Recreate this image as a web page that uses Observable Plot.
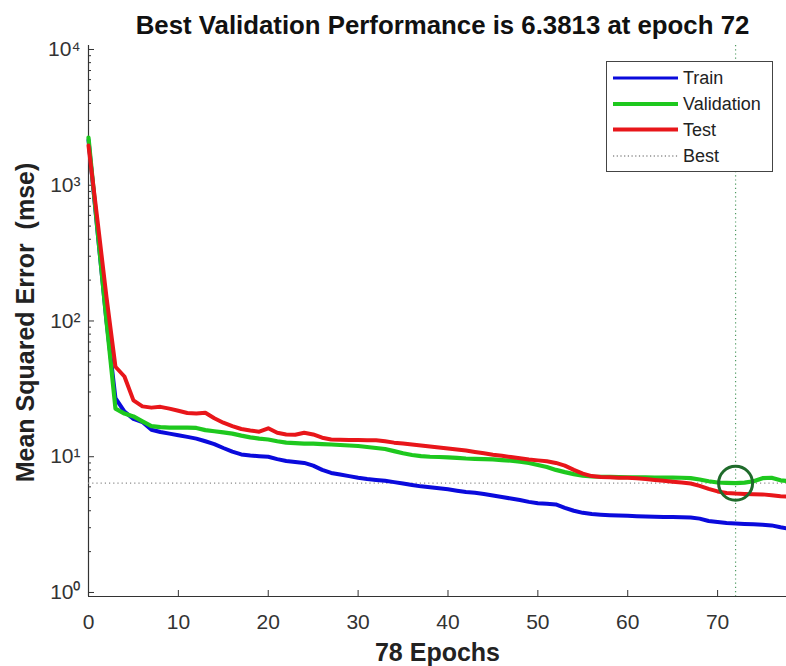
<!DOCTYPE html>
<html>
<head>
<meta charset="utf-8">
<script src="https://cdn.jsdelivr.net/npm/d3@7"></script>
<script src="https://cdn.jsdelivr.net/npm/@observablehq/plot@0.6"></script>
<style>
html, body { margin: 0; padding: 0; background: #fff; overflow: hidden; }
#wrap { position: relative; width: 786px; height: 666px; overflow: hidden; font-family: "Liberation Sans", Arial, sans-serif; }
#legend { position: absolute; left: 606px; top: 61px; width: 167px; height: 111px; border: 1px solid #444; background: #fff; box-sizing: border-box; }
#legend svg { display: block; }
</style>
</head>
<body>
<div id="wrap"></div>
<script>
// ---- data ----
const train = [2150, 460, 100, 27, 21.5, 19, 18, 15.8, 15.2, 14.8,
  14.4, 14.0, 13.6, 13.0, 12.4, 11.6, 10.9, 10.4, 10.2, 10.1,
  10.0, 9.6, 9.3, 9.15, 9.0, 8.6, 8.0, 7.6, 7.4, 7.2,
  7.0, 6.85, 6.75, 6.65, 6.5, 6.35, 6.2, 6.05, 5.95, 5.85,
  5.75, 5.62, 5.5, 5.42, 5.32, 5.18, 5.05, 4.92, 4.8, 4.65,
  4.55, 4.5, 4.45, 4.2, 4.0, 3.86, 3.78, 3.74, 3.71, 3.69,
  3.67, 3.65, 3.63, 3.61, 3.6, 3.59, 3.58, 3.57, 3.5, 3.36,
  3.3, 3.25, 3.22, 3.2, 3.18, 3.16, 3.12, 3.02, 2.95];
const validation = [2240, 470, 100, 22.6, 20.8, 19.8, 18.2, 16.8, 16.5, 16.4,
  16.4, 16.4, 16.3, 15.7, 15.4, 15.1, 14.8, 14.3, 13.9, 13.6,
  13.4, 13.0, 12.7, 12.6, 12.5, 12.5, 12.4, 12.3, 12.2, 12.1,
  12.0, 11.8, 11.6, 11.4, 11.0, 10.6, 10.3, 10.1, 10.0, 9.95,
  9.9, 9.8, 9.7, 9.65, 9.6, 9.55, 9.45, 9.35, 9.2, 9.0,
  8.7, 8.4, 8.0, 7.7, 7.45, 7.25, 7.15, 7.12, 7.1, 7.08,
  7.06, 7.05, 7.04, 7.03, 7.02, 7.01, 7.0, 6.95, 6.8, 6.6,
  6.46, 6.42, 6.3813, 6.45, 6.6, 6.95, 7.0, 6.7, 6.6];
const test = [1960, 550, 150, 46, 39, 26, 23.5, 23.0, 23.3, 22.6,
  21.8, 21.0, 20.8, 21.1, 19.2, 17.8, 16.8, 16.0, 15.6, 15.3,
  16.2, 15.0, 14.6, 14.5, 15.0, 14.6, 13.8, 13.4, 13.35, 13.3,
  13.3, 13.25, 13.2, 13.0, 12.7, 12.5, 12.3, 12.1, 11.9, 11.7,
  11.5, 11.3, 11.1, 10.85, 10.6, 10.35, 10.15, 9.95, 9.75, 9.55,
  9.4, 9.25, 9.0, 8.6, 8.0, 7.5, 7.2, 7.1, 7.05, 7.0,
  7.0, 6.95, 6.85, 6.75, 6.65, 6.55, 6.45, 6.35, 6.1, 5.8,
  5.55, 5.4, 5.35, 5.32, 5.3, 5.28, 5.2, 5.12, 5.08];
const seriesNames = ["Train", "Validation", "Test", "Best"];
const bestEpoch = 72;
const bestPerf = 6.3813;
const xTicks = [0, 10, 20, 30, 40, 50, 60, 70];
const yTicks = [1, 10, 100, 1000, 10000];
const supDigits = ["\u2070", "\u00b9", "\u00b2", "\u00b3", "\u2074"];

// ---- derived tables ----
const rows = (arr) => arr.map((v, i) => ({epoch: i, mse: v}));
const nEpochs = train.length - 1;
const yMinor = yTicks.slice(0, -1).flatMap(t => [2,3,4,5,6,7,8,9].map(m => m * t));
const yDomain = [0.934, 10700];

const cBlue = "#0a0adc", cGreen = "#1ec81e", cRed = "#e8161a";
const cBestV = "#4f9a62", cBestH = "#8a8a8a", cCircle = "#1f6b2b";
const axisCol = "#333";

const plot = Plot.plot({
  width: 786,
  height: 666,
  marginLeft: 88,
  marginRight: -3,
  marginTop: 45,
  marginBottom: 70,
  style: {fontFamily: "'Liberation Sans', Arial, sans-serif", fontSize: "21px", color: axisCol, background: "#fff", overflow: "visible"},
  x: {domain: [0, nEpochs]},
  y: {type: "log", domain: yDomain},
  marks: [
    Plot.ruleX([0], {stroke: axisCol, strokeWidth: 1.2}),
    Plot.ruleY([yDomain[0]], {stroke: axisCol, strokeWidth: 1.2}),
    Plot.axisX({ticks: xTicks, tickSize: 0, tickPadding: 18, fontSize: 21, fill: "#333", label: null}),
    Plot.axisX({ticks: xTicks, tickSize: -6, fill: "none", stroke: axisCol, label: null}),
    Plot.axisY({ticks: yTicks, tickSize: 0, tickPadding: 8, fontSize: 21, fill: "#333", label: null,
      tickFormat: d => "10" + supDigits[Math.round(Math.log10(d))]}),
    Plot.axisY({ticks: yTicks, tickSize: -6, fill: "none", stroke: axisCol, label: null}),
    Plot.axisY({ticks: yMinor, tickSize: -3, fill: "none", stroke: axisCol, label: null}),
    Plot.ruleY([bestPerf], {stroke: cBestH, strokeWidth: 1.2, strokeDasharray: "1.2,3"}),
    Plot.ruleX([bestEpoch], {stroke: cBestV, strokeWidth: 1.2, strokeDasharray: "1.2,3"}),
    Plot.line(rows(train), {x: "epoch", y: "mse", stroke: cBlue, strokeWidth: 4, strokeLinejoin: "round", strokeLinecap: "round"}),
    Plot.line(rows(validation), {x: "epoch", y: "mse", stroke: cGreen, strokeWidth: 4.2, strokeLinejoin: "round", strokeLinecap: "round"}),
    Plot.line(rows(test), {x: "epoch", y: "mse", stroke: cRed, strokeWidth: 4, strokeLinejoin: "round", strokeLinecap: "round"}),
    Plot.dot([{epoch: bestEpoch, mse: bestPerf}], {x: "epoch", y: "mse", r: 17, stroke: cCircle, strokeWidth: 3, fill: "none"}),
    Plot.text([`Best Validation Performance is ${bestPerf} at epoch ${bestEpoch}`], {frameAnchor: "top", dy: -12, dx: 3.5, lineAnchor: "bottom", textAnchor: "middle", fontSize: 25.8, fontWeight: "bold", fill: "#111"}),
    Plot.text([`${nEpochs} Epochs`], {frameAnchor: "bottom", dy: 64, dx: -1.5, lineAnchor: "bottom", textAnchor: "middle", fontSize: 25, fontWeight: "bold", fill: "#222"}),
    Plot.text(["Mean Squared Error\u00a0 (mse)"], {frameAnchor: "left", dx: -63, dy: 1.5, rotate: -90, lineAnchor: "middle", textAnchor: "middle", fontSize: 25, fontWeight: "bold", fill: "#222"})
  ]
});

const wrap = document.getElementById("wrap");
wrap.appendChild(plot);

// ---- legend ----
const legendColors = [cBlue, cGreen, cRed, "#555"];
const legendWidths = [3, 4, 4, 1.2];
const legendRowY = [17, 43, 68.5, 95];
const lg = d3.select(wrap).append("div").attr("id", "legend");
const ls = lg.append("svg").attr("width", 165).attr("height", 109);
seriesNames.forEach((name, i) => {
  const y = legendRowY[i] - 1;
  ls.append("line").attr("x1", 6).attr("x2", 71).attr("y1", y).attr("y2", y)
    .attr("stroke", legendColors[i]).attr("stroke-width", legendWidths[i])
    .attr("stroke-dasharray", name === "Best" ? "1.2,2.5" : null);
  ls.append("text").attr("x", 76).attr("y", y).attr("dominant-baseline", "central")
    .attr("font-family", "'Liberation Sans', Arial, sans-serif").attr("font-size", 18)
    .attr("fill", "#222").text(name);
});
</script>
</body>
</html>
